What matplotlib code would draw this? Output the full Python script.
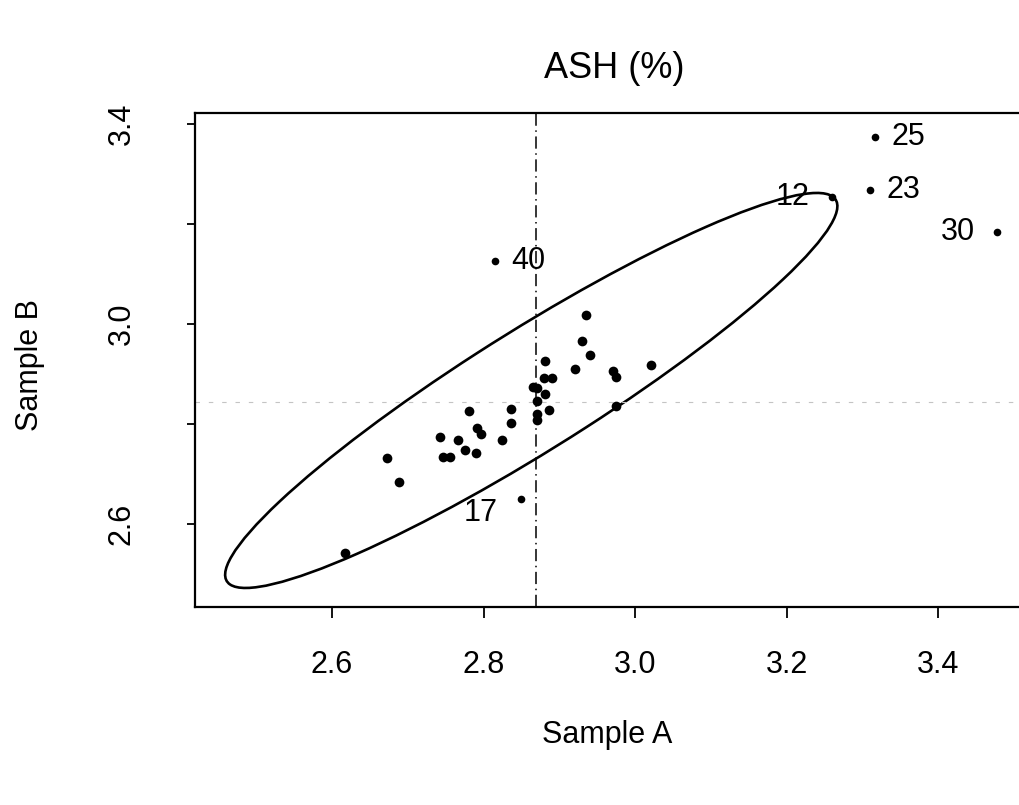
import numpy as np
import matplotlib
matplotlib.use('Agg')
from matplotlib import pyplot as plt
from matplotlib.patches import Ellipse

plt.rcParams['font.family'] = ['Liberation Sans', 'DejaVu Sans']

# unlabelled samples (A, B)
sample_a = [2.617, 2.673, 2.688, 2.742, 2.747, 2.756, 2.766, 2.776, 2.781, 2.790,
            2.791, 2.797, 2.825, 2.836, 2.836, 2.865, 2.870, 2.870, 2.870, 2.871,
            2.881, 2.880, 2.891, 2.881, 2.886, 2.921, 2.930, 2.935, 2.941, 2.971,
            2.975, 2.975, 3.021]
sample_b = [2.542, 2.732, 2.684, 2.773, 2.733, 2.733, 2.768, 2.747, 2.826, 2.741,
            2.792, 2.779, 2.768, 2.830, 2.801, 2.873, 2.872, 2.846, 2.820, 2.808,
            2.925, 2.892, 2.892, 2.860, 2.828, 2.910, 2.966, 3.018, 2.938, 2.905,
            2.893, 2.836, 2.918]

# labelled outliers
out_ids = ['17', '40', '25', '23', '12', '30']
out_a = [2.850, 2.815, 3.317, 3.310, 3.260, 3.478]
out_b = [2.650, 3.126, 3.374, 3.268, 3.254, 3.184]
out_side = ['left', 'right', 'right', 'right', 'left', 'left']

# reference lines
vline_a = 2.869
hline_b = 2.844

# tolerance ellipse
ell_center = (2.863, 2.867)
ell_sd = (0.404, 0.395)
ell_r = 0.933

xticks = [2.6, 2.8, 3.0, 3.2, 3.4]
yticks = [2.6, 3.0, 3.4]
yticks_minor = [2.8, 3.2]

fig = plt.figure(figsize=(10.2, 8.05), dpi=100)
ax = fig.add_axes([0.191, 0.246, 0.809, 0.6137])

cov = np.array([[ell_sd[0] ** 2, ell_r * ell_sd[0] * ell_sd[1]],
                [ell_r * ell_sd[0] * ell_sd[1], ell_sd[1] ** 2]])
vals, vecs = np.linalg.eigh(cov)
ang = np.degrees(np.arctan2(vecs[1, 1], vecs[0, 1]))
ax.add_patch(Ellipse(ell_center, 2 * np.sqrt(vals[1]), 2 * np.sqrt(vals[0]), angle=ang,
                     fill=False, ec='black', lw=1.9))

ax.axvline(vline_a, color='black', lw=1.1, dashes=(8, 3, 1, 3))
ax.axhline(hline_b, color='#c4c4c4', lw=0.8, dashes=(4, 8))

ax.plot(sample_a, sample_b, 'o', color='black', ms=7, mec='none')
ax.plot(out_a, out_b, 'o', color='black', ms=5.5, mec='none')

for lab, xa, yb, side in zip(out_ids, out_a, out_b, out_side):
    if side == 'right':
        ax.annotate(lab, (xa, yb), xytext=(12, 0), textcoords='offset points',
                    ha='left', va='center', fontsize=22)
    elif lab == '17':
        ax.annotate(lab, (xa, yb), xytext=(-17, -10), textcoords='offset points',
                    ha='right', va='center', fontsize=22)
    else:
        ax.annotate(lab, (xa, yb), xytext=(-16, 0), textcoords='offset points',
                    ha='right', va='center', fontsize=22)

ax.set_xlim(2.419, 3.508)
ax.set_ylim(2.434, 3.422)
ax.set_xticks(xticks)
ax.set_xticklabels([f'{v:.1f}' for v in xticks])
ax.set_yticks(yticks)
ax.set_yticklabels([f'{v:.1f}' for v in yticks], rotation=90, va='center')
ax.set_yticks(yticks_minor, minor=True)
ax.tick_params(axis='x', direction='out', length=8, width=1.3, pad=23, labelsize=22)
ax.tick_params(axis='y', which='both', direction='out', length=6, width=1.3, pad=36, labelsize=22)
ax.tick_params(axis='y', which='minor', labelleft=False)

ax.spines['right'].set_visible(False)
for s in ('left', 'top', 'bottom'):
    ax.spines[s].set_linewidth(1.6)

fig.text(0.602, 0.9155, 'ASH (%)', ha='center', va='center', fontsize=26)
fig.text(0.595, 0.087, 'Sample A', ha='center', va='center', fontsize=22)
fig.text(0.0294, 0.5466, 'Sample B', ha='center', va='center', fontsize=22, rotation=90)

fig.savefig('out.png', dpi=100)
